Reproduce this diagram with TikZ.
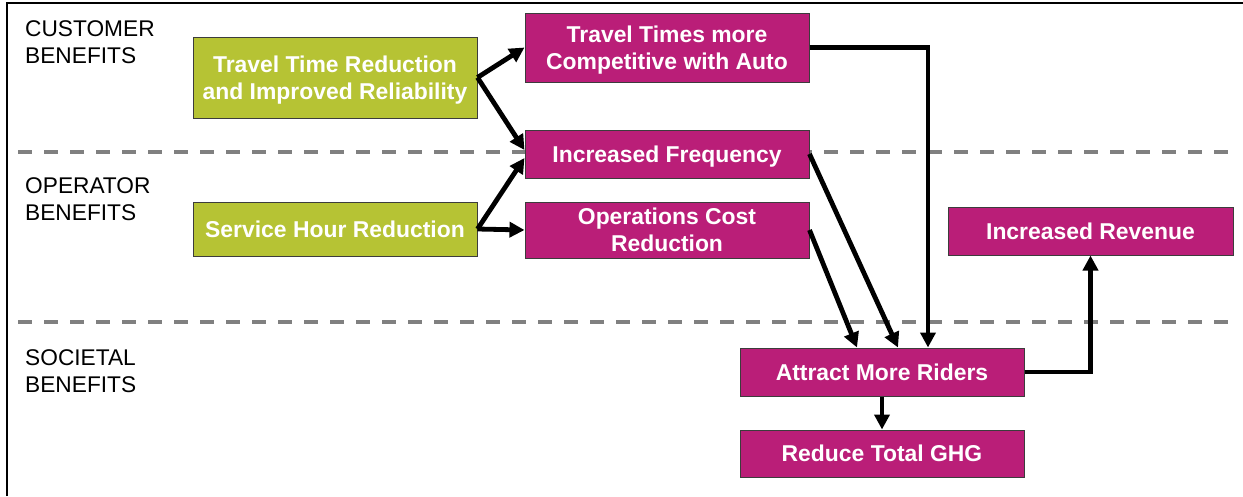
\documentclass[tikz,border=0pt]{standalone}
\usepackage{fontspec}
\setmainfont{Liberation Sans}
\usetikzlibrary{arrows.meta,calc}
\definecolor{boxgreen}{RGB}{182,195,52}
\definecolor{boxmag}{RGB}{186,30,120}
\definecolor{dashgray}{RGB}{128,128,128}
\definecolor{boxedge}{RGB}{60,60,60}
\begin{document}
\begin{tikzpicture}[x=1pt,y=-1pt,
  benefit/.style={draw=boxedge,line width=1pt,text=white,align=center,
    font=\fontsize{22.9}{27}\selectfont\bfseries,inner sep=0pt,minimum width=284pt,
    text height=16.2pt,text depth=0pt},
  twoline/.style={text height=43.2pt},
  greenbox/.style={benefit,fill=boxgreen},
  magbox/.style={benefit,fill=boxmag},
  rowlabel/.style={anchor=north west,inner sep=0pt,align=left,
    font=\fontsize{22.7}{27}\selectfont},
  divider/.style={draw=dashgray,line width=3.5pt,dash pattern=on 14pt off 12pt},
  flow/.style={line width=4.8pt,-{Triangle[length=15pt,width=15pt]}},
  frameline/.style={line width=2pt}]
\useasboundingbox (0,0) rectangle (1243,496);
% frame
\draw[frameline] (7,496) -- (7,3) -- (1243,3);
% dividers
\draw[divider] (18,152) -- (1236,152);
\draw[divider] (18,322) -- (1236,322);
% row labels
\node[rowlabel] (lc) at (25,20.5) {CUSTOMER\\BENEFITS};
\node[rowlabel] (lo) at (25,177.5) {OPERATOR\\BENEFITS};
\node[rowlabel] (ls) at (25,349.5) {SOCIETAL\\BENEFITS};
% boxes
\node[greenbox,twoline,minimum height=81pt] (g1) at (335,77.5) {Travel Time Reduction\\and Improved Reliability};
\node[greenbox,minimum height=54pt] (g2) at (335,229) {Service Hour Reduction};
\node[magbox,twoline,minimum height=69pt] (tt) at (667,47.5) {Travel Times more\\Competitive with Auto};
\node[magbox,minimum height=48pt] (fr) at (667,154) {Increased Frequency};
\node[magbox,twoline,minimum height=56pt] (ops) at (667,230) {Operations Cost\\Reduction};
\node[magbox,minimum height=48pt,minimum width=285pt] (rev) at (1090.5,231) {Increased Revenue};
\node[magbox,minimum height=48pt] (at) at (882,372) {Attract More Riders};
\node[magbox,minimum height=47pt] (ghg) at (882,453.5) {Reduce Total GHG};
% connectors
\draw[flow] (g1.east) -- (tt.west);
\draw[flow] (g1.east) -- ($(fr.west)+(0,-4)$);
\draw[flow] (g2.east) -- ($(fr.west)+(0,4)$);
\draw[flow] (g2.east) -- (ops.west);
\draw[flow] (tt.east) -| ($(at.north)+(46,0)$);
\draw[flow] (fr.east) -- ($(at.north)+(16,0)$);
\draw[flow] (ops.east) -- ($(at.north)+(-25,0)$);
\draw[flow] (at.east) -| (rev.south);
\draw[flow] (at.south) -- (ghg.north);
\end{tikzpicture}
\end{document}
